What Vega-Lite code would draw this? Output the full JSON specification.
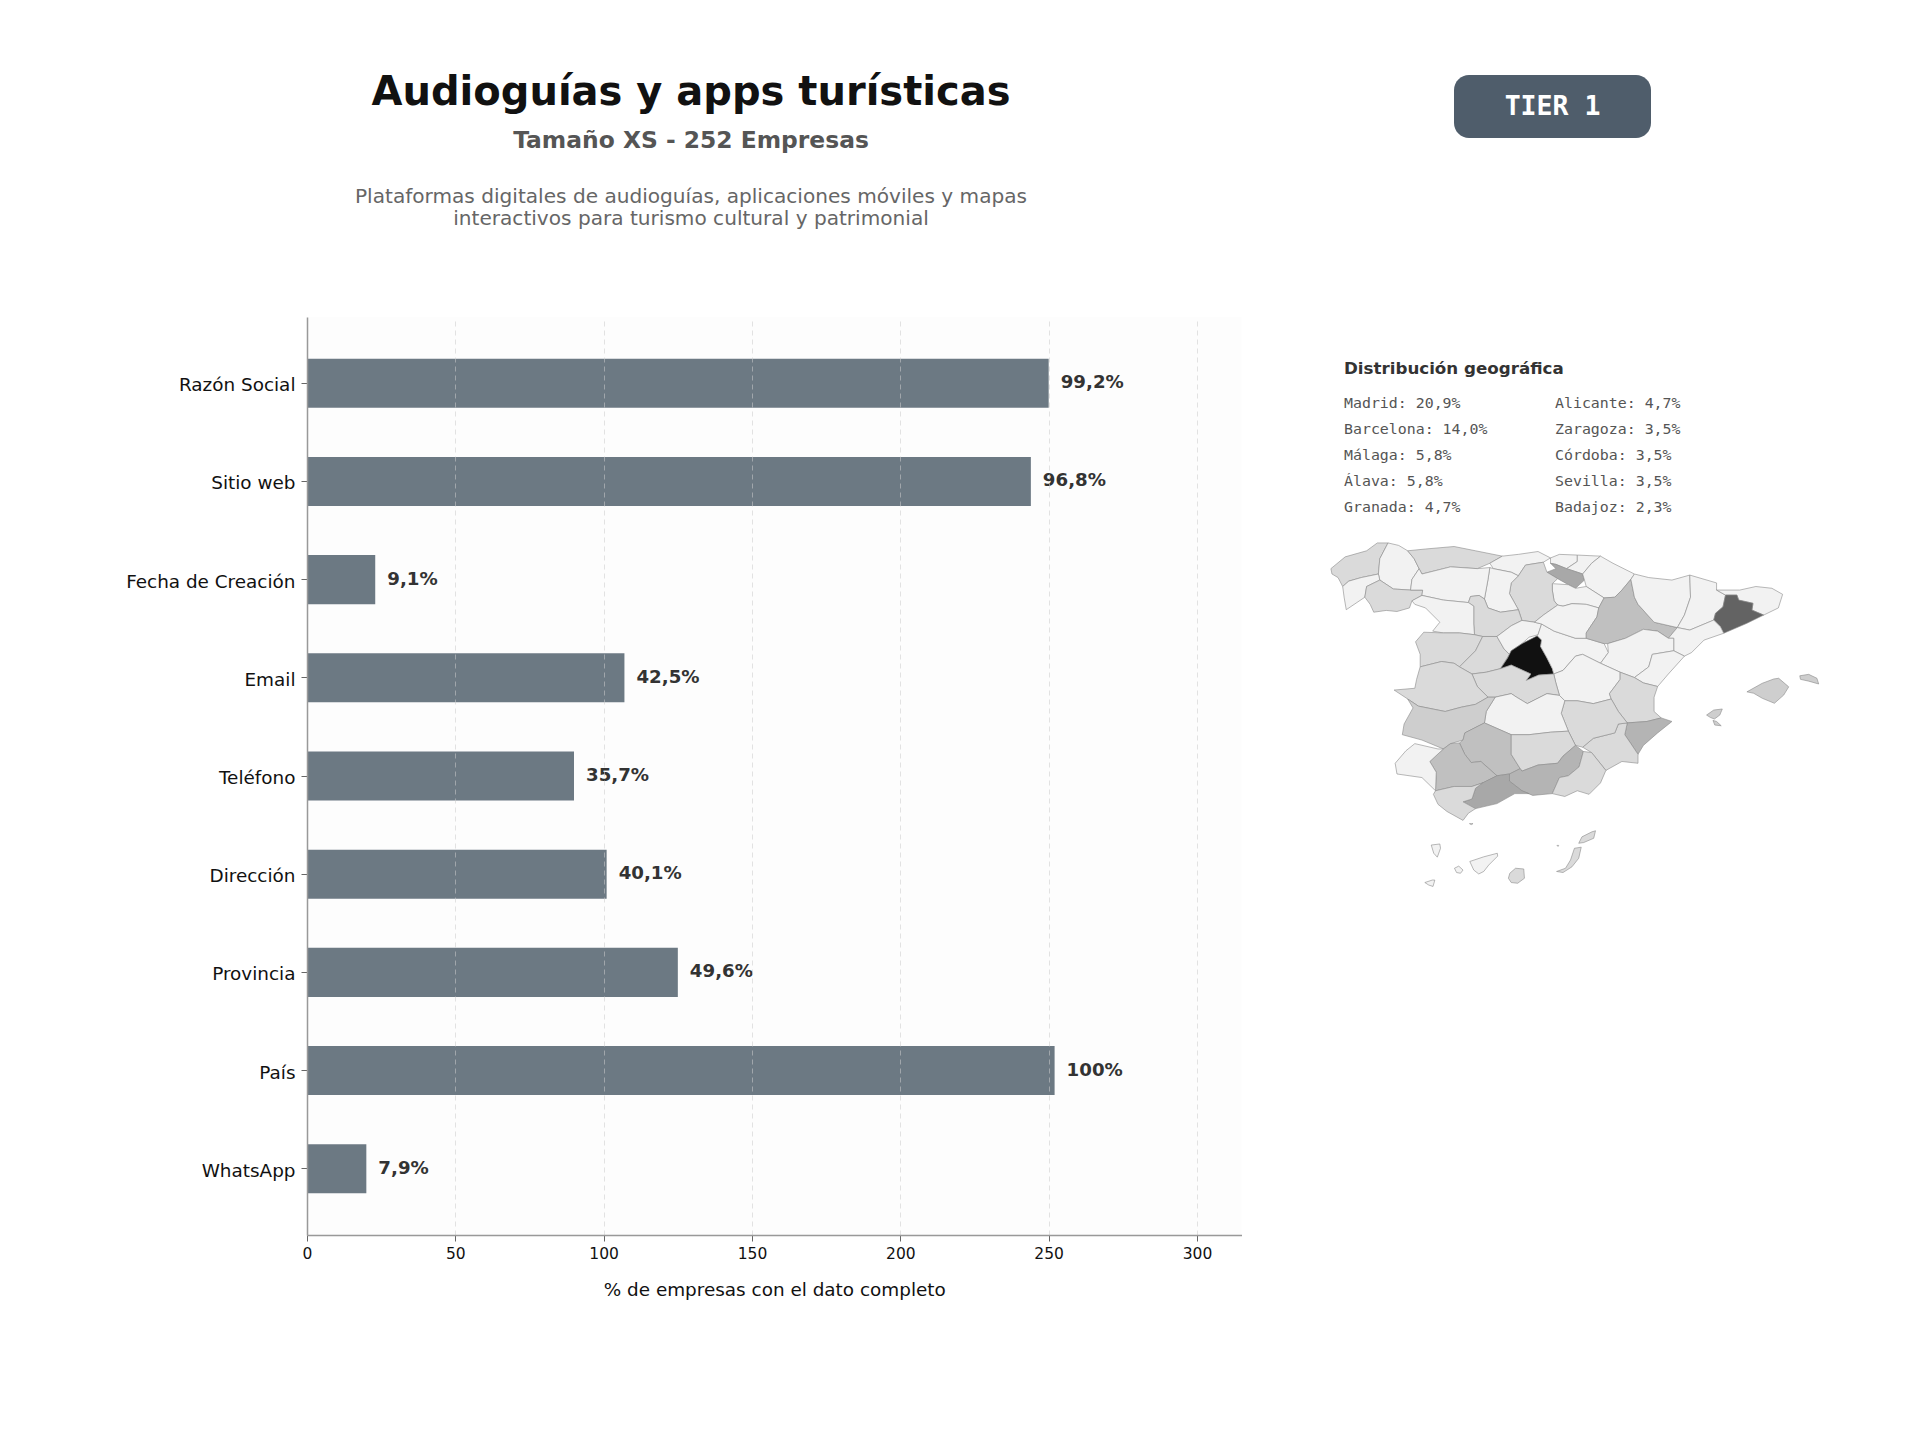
{"$schema":"https://vega.github.io/schema/vega-lite/v6.json","autosize":{"type":"none"},"padding":{"left":307,"top":317,"right":678.5,"bottom":205},"width":934.5,"height":918,"background":"#ffffff","view":{"fill":"#fdfdfd","stroke":null},"config":{"font":"DejaVu Sans"},"resolve":{"scale":{"x":"independent","y":"independent","color":"independent"}},
"layer":[
{"data":{"values":[{"campo":"Razón Social","empresas":250,"etiqueta":"99,2%"},{"campo":"Sitio web","empresas":244,"etiqueta":"96,8%"},{"campo":"Fecha de Creación","empresas":23,"etiqueta":"9,1%"},{"campo":"Email","empresas":107,"etiqueta":"42,5%"},{"campo":"Teléfono","empresas":90,"etiqueta":"35,7%"},{"campo":"Dirección","empresas":101,"etiqueta":"40,1%"},{"campo":"Provincia","empresas":125,"etiqueta":"49,6%"},{"campo":"País","empresas":252,"etiqueta":"100%"},{"campo":"WhatsApp","empresas":20,"etiqueta":"7,9%"}]},
"encoding":{"x":{"field":"empresas","type":"quantitative","scale":{"domain":[0,315],"nice":false,"zero":true},"axis":{"title":"% de empresas con el dato completo","titleFont":"DejaVu Sans","titleFontSize":18.4,"titleFontWeight":"normal","titleColor":"#111111","titlePadding":19,"values":[0,50,100,150,200,250,300],"labelFont":"DejaVu Sans","labelFontSize":15.5,"labelColor":"#111111","labelPadding":5,"labelFlush":false,"tickColor":"#666666","tickSize":6,"tickWidth":1,"domainColor":"#999999","domainWidth":1.5,"grid":true,"gridColor":"#cccccc","gridOpacity":0.55,"gridDash":[5,4],"gridWidth":1,"zindex":1}},
"y":{"field":"campo","type":"nominal","sort":null,"scale":{"paddingInner":0.5,"paddingOuter":0.425},"axis":{"title":null,"labelFont":"DejaVu Sans","labelFontSize":18.4,"labelColor":"#111111","labelPadding":6,"labelOffset":2,"tickColor":"#666666","tickSize":6,"tickWidth":1,"domainColor":"#999999","domainWidth":1.5,"grid":false,"zindex":1}}},
"layer":[{"mark":{"type":"bar","color":"#6c7983"}},{"mark":{"type":"text","align":"left","baseline":"middle","dx":12,"font":"DejaVu Sans","fontWeight":"bold","fontSize":18.2,"color":"#333333"},"encoding":{"text":{"field":"etiqueta"}}}]},
{"data":{"values":[{"bloque":"cabecera","linea":"titulo","texto":"Audioguías y apps turísticas"}]},"mark":{"type":"text","align":"center","baseline":"middle","font":"DejaVu Sans","fontWeight":"bold","fontSize":40,"color":"#111111"},"encoding":{"x":{"field":"bloque","type":"nominal","axis":null,"scale":{"type":"point","domain":["cabecera"],"range":[384,384]}},"y":{"field":"linea","type":"nominal","axis":null,"scale":{"type":"point","domain":["titulo"],"range":[-224,-224]}},"text":{"field":"texto"}}},
{"data":{"values":[{"bloque":"cabecera","linea":"subtitulo","texto":"Tamaño XS - 252 Empresas"}]},"mark":{"type":"text","align":"center","baseline":"middle","font":"DejaVu Sans","fontWeight":"bold","fontSize":23.4,"color":"#555555"},"encoding":{"x":{"field":"bloque","type":"nominal","axis":null,"scale":{"type":"point","domain":["cabecera"],"range":[384,384]}},"y":{"field":"linea","type":"nominal","axis":null,"scale":{"type":"point","domain":["subtitulo"],"range":[-176,-176]}},"text":{"field":"texto"}}},
{"data":{"values":[{"bloque":"cabecera","linea":"d1","texto":"Plataformas digitales de audioguías, aplicaciones móviles y mapas"},{"bloque":"cabecera","linea":"d2","texto":"interactivos para turismo cultural y patrimonial"}]},"mark":{"type":"text","align":"center","baseline":"middle","font":"DejaVu Sans","fontSize":20.1,"color":"#666666"},"encoding":{"x":{"field":"bloque","type":"nominal","axis":null,"scale":{"type":"point","domain":["cabecera"],"range":[384,384]}},"y":{"field":"linea","type":"nominal","axis":null,"scale":{"type":"point","padding":0,"domain":["d1","d2"],"range":[-120,-98]}},"text":{"field":"texto"}}},
{"data":{"values":[{"nivel":"TIER 1","fila":"insignia"}]},"encoding":{"x":{"field":"nivel","type":"nominal","axis":null,"scale":{"type":"band","domain":["TIER 1"],"range":[1147,1344],"paddingInner":0,"paddingOuter":0}},"y":{"field":"fila","type":"nominal","axis":null,"scale":{"type":"band","domain":["insignia"],"range":[-242,-179],"paddingInner":0,"paddingOuter":0}}},"layer":[{"mark":{"type":"rect","color":"#4f5d6b","cornerRadius":15}},{"mark":{"type":"text","align":"center","baseline":"middle","font":"DejaVu Sans Mono","fontWeight":"bold","fontSize":26.5,"color":"#ffffff"},"encoding":{"text":{"field":"nivel"}}}]},
{"data":{"values":[{"bloque":"geo","linea":"encabezado","texto":"Distribución geográfica"}]},"mark":{"type":"text","align":"left","baseline":"middle","font":"DejaVu Sans","fontWeight":"bold","fontSize":16.7,"color":"#333333"},"encoding":{"x":{"field":"bloque","type":"nominal","axis":null,"scale":{"type":"point","domain":["geo"],"range":[1037,1037]}},"y":{"field":"linea","type":"nominal","axis":null,"scale":{"type":"point","domain":["encabezado"],"range":[51.5,51.5]}},"text":{"field":"texto"}}},
{"data":{"values":[{"columna":"a","fila":"1","texto":"Madrid: 20,9%"},{"columna":"a","fila":"2","texto":"Barcelona: 14,0%"},{"columna":"a","fila":"3","texto":"Málaga: 5,8%"},{"columna":"a","fila":"4","texto":"Álava: 5,8%"},{"columna":"a","fila":"5","texto":"Granada: 4,7%"},{"columna":"b","fila":"1","texto":"Alicante: 4,7%"},{"columna":"b","fila":"2","texto":"Zaragoza: 3,5%"},{"columna":"b","fila":"3","texto":"Córdoba: 3,5%"},{"columna":"b","fila":"4","texto":"Sevilla: 3,5%"},{"columna":"b","fila":"5","texto":"Badajoz: 2,3%"}]},"mark":{"type":"text","align":"left","baseline":"middle","font":"DejaVu Sans Mono","fontSize":14.9,"color":"#555555"},"encoding":{"x":{"field":"columna","type":"nominal","axis":null,"scale":{"type":"point","padding":0,"domain":["a","b"],"range":[1037,1248]}},"y":{"field":"fila","type":"nominal","axis":null,"scale":{"type":"point","padding":0,"domain":["1","2","3","4","5"],"range":[87.4,191.3]}},"text":{"field":"texto"}}},
{"data":{"values":[
{"type":"Feature","properties":{"name":"A Coruña","pct":1.2},"geometry":{"type":"Polygon","coordinates":[[[-9.30,43.05],[-8.90,43.38],[-8.30,43.55],[-8.00,43.77],[-7.70,43.77],[-7.93,43.33],[-7.97,42.90],[-8.45,42.80],[-8.80,42.70],[-8.97,42.55],[-9.10,42.80],[-9.27,42.90],[-9.30,43.05]]]}},
{"type":"Feature","properties":{"name":"Lugo","pct":0},"geometry":{"type":"Polygon","coordinates":[[[-7.70,43.77],[-7.40,43.70],[-7.15,43.55],[-6.97,43.33],[-6.83,43.05],[-7.03,42.75],[-7.07,42.45],[-7.55,42.48],[-7.93,42.73],[-7.97,42.90],[-7.93,43.33],[-7.70,43.77]]]}},
{"type":"Feature","properties":{"name":"Pontevedra","pct":0},"geometry":{"type":"Polygon","coordinates":[[[-8.97,42.55],[-8.80,42.70],[-8.45,42.80],[-7.97,42.90],[-7.93,42.73],[-8.30,42.55],[-8.35,42.25],[-8.87,41.90],[-8.93,42.25],[-8.97,42.55]]]}},
{"type":"Feature","properties":{"name":"Ourense","pct":1.2},"geometry":{"type":"Polygon","coordinates":[[[-8.30,42.55],[-7.93,42.73],[-7.55,42.48],[-7.07,42.45],[-6.73,42.45],[-6.75,42.30],[-7.03,42.15],[-7.10,41.95],[-7.45,41.85],[-7.75,41.88],[-8.10,41.83],[-8.20,42.05],[-8.35,42.25],[-8.30,42.55]]]}},
{"type":"Feature","properties":{"name":"Asturias","pct":1.2},"geometry":{"type":"Polygon","coordinates":[[[-7.15,43.55],[-6.65,43.60],[-5.85,43.67],[-5.25,43.55],[-4.50,43.40],[-4.85,43.20],[-5.20,43.05],[-5.95,43.10],[-6.75,42.90],[-6.83,43.05],[-6.97,43.33],[-7.15,43.55]]]}},
{"type":"Feature","properties":{"name":"Cantabria","pct":0},"geometry":{"type":"Polygon","coordinates":[[[-4.50,43.40],[-4.05,43.45],[-3.50,43.53],[-3.15,43.35],[-3.35,43.23],[-3.85,43.15],[-4.05,42.85],[-4.25,42.95],[-4.75,43.05],[-4.85,43.20],[-4.50,43.40]]]}},
{"type":"Feature","properties":{"name":"Bizkaia","pct":0},"geometry":{"type":"Polygon","coordinates":[[[-3.15,43.35],[-2.90,43.45],[-2.40,43.43],[-2.40,43.25],[-2.70,43.05],[-3.00,43.17],[-3.15,43.20],[-3.15,43.35]]]}},
{"type":"Feature","properties":{"name":"Gipuzkoa","pct":0},"geometry":{"type":"Polygon","coordinates":[[[-2.40,43.43],[-1.75,43.40],[-2.00,43.20],[-2.25,42.90],[-2.70,43.05],[-2.40,43.25],[-2.40,43.43]]]}},
{"type":"Feature","properties":{"name":"Álava","pct":5.8},"geometry":{"type":"Polygon","coordinates":[[[-3.15,43.20],[-3.00,43.17],[-2.70,43.05],[-2.25,42.90],[-2.20,42.73],[-2.45,42.50],[-2.65,42.60],[-2.95,42.77],[-3.25,42.95],[-3.00,43.05],[-3.15,43.20]]]}},
{"type":"Feature","properties":{"name":"Navarra","pct":0},"geometry":{"type":"Polygon","coordinates":[[[-1.75,43.40],[-1.40,43.20],[-0.80,42.90],[-0.90,42.75],[-1.15,42.45],[-1.35,42.25],[-1.65,42.23],[-2.15,42.55],[-2.20,42.73],[-2.25,42.90],[-2.00,43.20],[-1.75,43.40]]]}},
{"type":"Feature","properties":{"name":"La Rioja","pct":0},"geometry":{"type":"Polygon","coordinates":[[[-3.10,42.63],[-2.65,42.60],[-2.45,42.50],[-2.15,42.55],[-1.65,42.23],[-1.80,41.95],[-2.15,42.05],[-2.55,42.07],[-2.80,42.00],[-2.95,42.03],[-3.05,42.15],[-3.10,42.45],[-3.10,42.63]]]}},
{"type":"Feature","properties":{"name":"Burgos","pct":1.2},"geometry":{"type":"Polygon","coordinates":[[[-4.05,42.85],[-3.85,43.15],[-3.35,43.23],[-3.25,42.95],[-2.95,42.77],[-3.10,42.63],[-3.10,42.45],[-3.05,42.15],[-2.95,42.03],[-3.35,41.75],[-3.60,41.55],[-3.95,41.60],[-4.05,41.90],[-4.30,42.35],[-4.25,42.65],[-4.05,42.85]]]}},
{"type":"Feature","properties":{"name":"Palencia","pct":0},"geometry":{"type":"Polygon","coordinates":[[[-4.85,43.08],[-4.75,43.05],[-4.25,42.95],[-4.05,42.85],[-4.25,42.65],[-4.30,42.35],[-4.05,41.90],[-4.55,41.83],[-4.90,41.95],[-5.00,42.20],[-4.90,42.75],[-4.85,43.08]]]}},
{"type":"Feature","properties":{"name":"León","pct":0},"geometry":{"type":"Polygon","coordinates":[[[-6.75,42.90],[-5.95,43.10],[-5.20,43.05],[-4.85,43.08],[-4.90,42.75],[-5.00,42.20],[-5.15,42.30],[-5.39,42.27],[-5.45,42.10],[-6.15,42.17],[-6.75,42.30],[-6.73,42.45],[-7.07,42.45],[-7.03,42.75],[-6.83,43.05],[-6.75,42.90]]]}},
{"type":"Feature","properties":{"name":"Valladolid","pct":1.2},"geometry":{"type":"Polygon","coordinates":[[[-5.39,42.27],[-5.15,42.30],[-5.00,42.20],[-4.90,41.95],[-4.55,41.83],[-4.05,41.90],[-3.95,41.60],[-4.25,41.45],[-4.65,41.15],[-5.05,41.15],[-5.28,41.20],[-5.30,41.50],[-5.30,42.00],[-5.45,42.10],[-5.39,42.27]]]}},
{"type":"Feature","properties":{"name":"Zamora","pct":0},"geometry":{"type":"Polygon","coordinates":[[[-6.75,42.30],[-6.15,42.17],[-5.45,42.10],[-5.30,42.00],[-5.30,41.50],[-5.28,41.20],[-5.70,41.25],[-6.15,41.25],[-6.45,41.30],[-6.25,41.55],[-6.65,41.95],[-6.95,42.05],[-7.03,42.15],[-6.75,42.30]]]}},
{"type":"Feature","properties":{"name":"Salamanca","pct":1.2},"geometry":{"type":"Polygon","coordinates":[[[-6.70,41.27],[-6.15,41.25],[-5.70,41.25],[-5.28,41.20],[-5.05,41.15],[-5.25,40.75],[-5.70,40.30],[-5.85,40.40],[-6.20,40.45],[-6.80,40.30],[-6.80,40.65],[-6.93,41.00],[-6.70,41.27]]]}},
{"type":"Feature","properties":{"name":"Ávila","pct":1.2},"geometry":{"type":"Polygon","coordinates":[[[-5.05,41.15],[-4.65,41.15],[-4.45,40.80],[-4.30,40.65],[-4.55,40.25],[-4.95,40.15],[-5.35,40.10],[-5.70,40.30],[-5.25,40.75],[-5.05,41.15]]]}},
{"type":"Feature","properties":{"name":"Segovia","pct":0},"geometry":{"type":"Polygon","coordinates":[[[-3.95,41.60],[-3.60,41.55],[-3.40,41.50],[-3.50,41.20],[-3.75,41.13],[-3.95,40.95],[-4.25,40.75],[-4.30,40.65],[-4.45,40.80],[-4.65,41.15],[-4.25,41.45],[-3.95,41.60]]]}},
{"type":"Feature","properties":{"name":"Madrid","pct":20.9},"geometry":{"type":"Polygon","coordinates":[[[-3.52,41.17],[-3.40,41.05],[-3.43,40.87],[-3.25,40.55],[-3.10,40.25],[-3.06,40.10],[-3.48,40.07],[-3.83,39.92],[-3.70,40.10],[-4.25,40.35],[-4.55,40.25],[-4.35,40.55],[-4.25,40.75],[-3.95,40.95],[-3.52,41.17]]]}},
{"type":"Feature","properties":{"name":"Guadalajara","pct":0},"geometry":{"type":"Polygon","coordinates":[[[-3.40,41.50],[-3.05,41.30],[-2.45,41.10],[-2.15,41.10],[-1.65,40.95],[-1.53,40.70],[-1.75,40.40],[-2.25,40.65],[-2.45,40.60],[-2.80,40.20],[-3.06,40.10],[-3.10,40.25],[-3.25,40.55],[-3.43,40.87],[-3.40,41.05],[-3.52,41.17],[-3.50,41.20],[-3.40,41.50]]]}},
{"type":"Feature","properties":{"name":"Soria","pct":0},"geometry":{"type":"Polygon","coordinates":[[[-2.95,42.03],[-2.80,42.00],[-2.55,42.07],[-2.15,42.05],[-1.80,41.95],[-1.85,41.70],[-2.15,41.25],[-2.15,41.10],[-2.45,41.10],[-3.05,41.30],[-3.40,41.50],[-3.60,41.55],[-3.35,41.75],[-2.95,42.03]]]}},
{"type":"Feature","properties":{"name":"Zaragoza","pct":3.5},"geometry":{"type":"Polygon","coordinates":[[[-0.90,42.75],[-0.80,42.25],[-0.70,42.05],[-0.25,41.55],[0.40,41.40],[0.15,41.10],[-0.15,41.30],[-0.55,41.35],[-1.05,41.10],[-1.55,40.95],[-1.65,40.95],[-2.15,41.10],[-2.15,41.25],[-1.85,41.70],[-1.80,41.95],[-1.65,42.23],[-1.35,42.25],[-1.15,42.45],[-0.90,42.75]]]}},
{"type":"Feature","properties":{"name":"Huesca","pct":0},"geometry":{"type":"Polygon","coordinates":[[[-0.80,42.90],[-0.40,42.80],[0.25,42.73],[0.75,42.87],[0.77,42.25],[0.60,41.75],[0.40,41.40],[-0.25,41.55],[-0.70,42.05],[-0.80,42.25],[-0.90,42.75],[-0.80,42.90]]]}},
{"type":"Feature","properties":{"name":"Lleida","pct":0},"geometry":{"type":"Polygon","coordinates":[[[0.75,42.87],[1.50,42.65],[1.50,42.45],[1.75,42.31],[1.68,41.98],[1.47,41.80],[1.42,41.61],[0.75,41.33],[0.40,41.40],[0.60,41.75],[0.77,42.25],[0.75,42.87]]]}},
{"type":"Feature","properties":{"name":"Girona","pct":0},"geometry":{"type":"Polygon","coordinates":[[[1.50,42.45],[2.15,42.45],[2.60,42.55],[3.05,42.50],[3.35,42.33],[3.23,41.95],[2.82,41.75],[2.49,41.89],[2.52,42.08],[2.12,42.17],[2.07,42.31],[1.75,42.31],[1.50,42.45]]]}},
{"type":"Feature","properties":{"name":"Barcelona","pct":14},"geometry":{"type":"Polygon","coordinates":[[[1.75,42.31],[2.07,42.31],[2.12,42.17],[2.52,42.08],[2.49,41.89],[2.82,41.75],[2.35,41.52],[1.70,41.24],[1.61,41.42],[1.42,41.61],[1.47,41.80],[1.68,41.98],[1.75,42.31]]]}},
{"type":"Feature","properties":{"name":"Tarragona","pct":0},"geometry":{"type":"Polygon","coordinates":[[[1.42,41.61],[1.61,41.42],[1.70,41.24],[1.15,41.05],[0.80,40.70],[0.60,40.60],[0.30,40.75],[0.30,41.10],[0.15,41.10],[0.40,41.40],[0.75,41.33],[1.42,41.61]]]}},
{"type":"Feature","properties":{"name":"Teruel","pct":0},"geometry":{"type":"Polygon","coordinates":[[[-1.55,40.95],[-1.05,41.10],[-0.55,41.35],[-0.15,41.30],[0.15,41.10],[0.30,41.10],[0.30,40.75],[-0.30,40.65],[-0.40,40.30],[-0.80,40.00],[-1.20,40.15],[-1.75,40.40],[-1.53,40.70],[-1.55,40.95]]]}},
{"type":"Feature","properties":{"name":"Castellón","pct":0},"geometry":{"type":"Polygon","coordinates":[[[-0.30,40.65],[0.30,40.75],[0.60,40.60],[0.15,40.10],[-0.15,39.75],[-0.55,39.85],[-0.80,40.00],[-0.40,40.30],[-0.30,40.65]]]}},
{"type":"Feature","properties":{"name":"Cuenca","pct":0},"geometry":{"type":"Polygon","coordinates":[[[-2.80,40.20],[-2.45,40.60],[-2.25,40.65],[-1.75,40.40],[-1.20,40.15],[-1.20,39.95],[-1.50,39.55],[-1.45,39.40],[-1.95,39.27],[-2.40,39.35],[-2.75,39.35],[-2.90,39.50],[-3.00,39.85],[-3.06,40.10],[-2.80,40.20]]]}},
{"type":"Feature","properties":{"name":"Valencia","pct":1.2},"geometry":{"type":"Polygon","coordinates":[[[-1.20,40.15],[-0.80,40.00],[-0.55,39.85],[-0.15,39.75],[-0.25,39.45],[-0.25,39.05],[-0.05,38.87],[-0.45,38.77],[-1.00,38.73],[-1.25,39.05],[-1.45,39.40],[-1.50,39.55],[-1.20,39.95],[-1.20,40.15]]]}},
{"type":"Feature","properties":{"name":"Alicante","pct":4.7},"geometry":{"type":"Polygon","coordinates":[[[-1.00,38.73],[-0.45,38.77],[-0.05,38.87],[0.25,38.77],[-0.15,38.45],[-0.55,38.10],[-0.70,37.85],[-0.90,38.15],[-1.07,38.40],[-1.00,38.73]]]}},
{"type":"Feature","properties":{"name":"Murcia","pct":1.2},"geometry":{"type":"Polygon","coordinates":[[[-2.25,38.05],[-1.95,38.30],[-1.35,38.45],[-1.25,38.70],[-1.00,38.73],[-1.07,38.40],[-0.90,38.15],[-0.70,37.85],[-0.70,37.60],[-1.15,37.65],[-1.60,37.40],[-2.00,37.90],[-2.25,38.05]]]}},
{"type":"Feature","properties":{"name":"Albacete","pct":1.2},"geometry":{"type":"Polygon","coordinates":[[[-2.75,39.35],[-2.40,39.35],[-1.95,39.27],[-1.45,39.40],[-1.25,39.05],[-1.00,38.73],[-1.25,38.70],[-1.35,38.45],[-1.95,38.30],[-2.25,38.05],[-2.45,38.10],[-2.65,38.50],[-2.85,39.00],[-2.75,39.35]]]}},
{"type":"Feature","properties":{"name":"Toledo","pct":1.2},"geometry":{"type":"Polygon","coordinates":[[[-5.35,40.10],[-4.95,40.15],[-4.55,40.25],[-4.25,40.35],[-3.70,40.10],[-3.83,39.92],[-3.48,40.07],[-3.06,40.10],[-3.00,39.85],[-2.90,39.50],[-3.25,39.55],[-3.80,39.27],[-4.10,39.45],[-4.25,39.55],[-4.70,39.45],[-4.90,39.45],[-5.20,39.75],[-5.35,40.10]]]}},
{"type":"Feature","properties":{"name":"Ciudad Real","pct":0},"geometry":{"type":"Polygon","coordinates":[[[-4.70,39.45],[-4.25,39.55],[-4.10,39.45],[-3.80,39.27],[-3.25,39.55],[-2.90,39.50],[-2.75,39.35],[-2.85,39.00],[-2.65,38.50],[-3.15,38.47],[-3.75,38.40],[-4.25,38.40],[-5.00,38.73],[-4.95,39.05],[-4.70,39.45]]]}},
{"type":"Feature","properties":{"name":"Cáceres","pct":1.2},"geometry":{"type":"Polygon","coordinates":[[[-6.80,40.30],[-6.20,40.45],[-5.85,40.40],[-5.70,40.30],[-5.35,40.10],[-5.20,39.75],[-4.90,39.45],[-5.25,39.25],[-5.65,39.17],[-6.10,39.05],[-6.85,39.20],[-7.15,39.40],[-7.53,39.65],[-6.95,39.70],[-6.90,39.95],[-6.80,40.30]]]}},
{"type":"Feature","properties":{"name":"Badajoz","pct":2.3},"geometry":{"type":"Polygon","coordinates":[[[-7.15,39.40],[-6.85,39.20],[-6.10,39.05],[-5.65,39.17],[-5.25,39.25],[-4.90,39.45],[-4.70,39.45],[-4.95,39.05],[-5.00,38.73],[-5.55,38.45],[-5.60,38.25],[-5.95,38.15],[-6.15,38.00],[-6.75,38.25],[-7.30,38.40],[-7.25,38.70],[-7.00,39.15],[-7.15,39.40]]]}},
{"type":"Feature","properties":{"name":"Córdoba","pct":3.5},"geometry":{"type":"Polygon","coordinates":[[[-5.00,38.73],[-4.25,38.40],[-4.25,37.85],[-4.00,37.45],[-4.30,37.30],[-4.65,37.25],[-5.10,37.65],[-5.37,37.62],[-5.55,37.85],[-5.70,38.17],[-5.60,38.25],[-5.55,38.45],[-5.00,38.73]]]}},
{"type":"Feature","properties":{"name":"Sevilla","pct":3.5},"geometry":{"type":"Polygon","coordinates":[[[-6.15,38.00],[-5.95,38.15],[-5.70,38.17],[-5.55,37.85],[-5.37,37.62],[-5.10,37.65],[-4.65,37.25],[-5.05,37.05],[-5.35,36.95],[-5.85,36.95],[-6.37,36.83],[-6.35,37.35],[-6.53,37.65],[-6.15,38.00]]]}},
{"type":"Feature","properties":{"name":"Huelva","pct":0},"geometry":{"type":"Polygon","coordinates":[[[-6.95,38.15],[-6.30,38.00],[-6.15,38.00],[-6.53,37.65],[-6.35,37.35],[-6.37,36.83],[-6.75,37.20],[-7.45,37.30],[-7.50,37.60],[-7.20,37.95],[-6.95,38.15]]]}},
{"type":"Feature","properties":{"name":"Jaén","pct":1.2},"geometry":{"type":"Polygon","coordinates":[[[-4.25,38.40],[-3.75,38.40],[-3.15,38.47],[-2.65,38.50],[-2.45,38.10],[-2.80,37.80],[-2.95,37.60],[-3.50,37.55],[-3.95,37.38],[-4.00,37.45],[-4.25,37.85],[-4.25,38.40]]]}},
{"type":"Feature","properties":{"name":"Granada","pct":4.7},"geometry":{"type":"Polygon","coordinates":[[[-2.45,38.10],[-2.23,37.93],[-2.35,37.50],[-2.65,37.25],[-2.90,37.20],[-3.10,36.75],[-3.65,36.70],[-3.95,36.83],[-4.30,37.10],[-4.30,37.30],[-4.00,37.45],[-3.95,37.38],[-3.50,37.55],[-2.95,37.60],[-2.80,37.80],[-2.45,38.10]]]}},
{"type":"Feature","properties":{"name":"Almería","pct":1.2},"geometry":{"type":"Polygon","coordinates":[[[-2.23,37.93],[-2.00,37.90],[-1.60,37.40],[-1.75,37.05],[-2.07,36.73],[-2.40,36.83],[-2.75,36.67],[-3.10,36.75],[-2.90,37.20],[-2.65,37.25],[-2.35,37.50],[-2.23,37.93]]]}},
{"type":"Feature","properties":{"name":"Málaga","pct":5.8},"geometry":{"type":"Polygon","coordinates":[[[-4.65,37.25],[-4.30,37.30],[-4.30,37.10],[-3.95,36.83],[-3.75,36.75],[-4.15,36.75],[-4.65,36.47],[-5.25,36.33],[-5.60,36.52],[-5.35,36.60],[-5.25,36.90],[-5.05,37.05],[-4.65,37.25]]]}},
{"type":"Feature","properties":{"name":"Cádiz","pct":1.2},"geometry":{"type":"Polygon","coordinates":[[[-6.37,36.83],[-5.85,36.95],[-5.35,36.95],[-5.05,37.05],[-5.25,36.90],[-5.35,36.60],[-5.60,36.52],[-5.25,36.33],[-5.45,36.20],[-5.60,36.00],[-6.05,36.25],[-6.30,36.45],[-6.43,36.73],[-6.37,36.83]]]}},
{"type":"Feature","properties":{"name":"Illes Balears","pct":2.3},"geometry":{"type":"MultiPolygon","coordinates":[[[[2.35,39.60],[2.78,39.84],[3.10,39.96],[3.24,39.98],[3.52,39.74],[3.38,39.51],[3.12,39.28],[2.78,39.42],[2.54,39.56],[2.35,39.60]]],[[[3.83,40.05],[4.08,40.09],[4.31,39.98],[4.36,39.82],[4.08,39.90],[3.85,39.95],[3.83,40.05]]],[[[1.22,38.95],[1.42,39.09],[1.66,39.12],[1.59,38.95],[1.44,38.84],[1.33,38.88],[1.22,38.95]]],[[[1.40,38.80],[1.50,38.77],[1.63,38.65],[1.45,38.67],[1.40,38.80]]]]}},
{"type":"Feature","properties":{"name":"Santa Cruz de Tenerife","pct":0},"geometry":{"type":"MultiPolygon","coordinates":[[[[-6.49,35.31],[-6.25,35.34],[-6.23,35.22],[-6.32,34.97],[-6.42,35.08],[-6.49,35.31]]],[[[-5.41,34.85],[-5.02,34.98],[-4.64,35.08],[-4.63,35.00],[-4.88,34.75],[-5.02,34.57],[-5.16,34.50],[-5.30,34.61],[-5.41,34.85]]],[[[-5.84,34.66],[-5.72,34.72],[-5.60,34.61],[-5.67,34.52],[-5.78,34.54],[-5.84,34.66]]],[[[-6.67,34.26],[-6.46,34.33],[-6.39,34.33],[-6.44,34.15],[-6.56,34.19],[-6.67,34.26]]]]}},
{"type":"Feature","properties":{"name":"Las Palmas","pct":1.2},"geometry":{"type":"MultiPolygon","coordinates":[[[[-4.29,34.52],[-4.13,34.66],[-3.90,34.64],[-3.88,34.38],[-4.07,34.24],[-4.25,34.26],[-4.33,34.38],[-4.29,34.52]]],[[[-2.98,34.57],[-2.73,34.66],[-2.59,34.89],[-2.48,35.22],[-2.29,35.25],[-2.36,34.94],[-2.55,34.70],[-2.80,34.54],[-2.98,34.57]]],[[[-2.36,35.36],[-2.27,35.54],[-1.99,35.68],[-1.89,35.71],[-1.94,35.50],[-2.22,35.38],[-2.36,35.36]]]]}},
{"type":"Feature","properties":{"name":"Ceuta","pct":0},"geometry":{"type":"Polygon","coordinates":[[[-5.42,35.91],[-5.32,35.91],[-5.37,35.88],[-5.42,35.91]]]}},
{"type":"Feature","properties":{"name":"Melilla","pct":0},"geometry":{"type":"Polygon","coordinates":[[[-2.97,35.30],[-2.92,35.30],[-2.94,35.27],[-2.97,35.30]]]}}
]},
"projection":{"type":"identity","reflectY":true,"extent":[[1023.9,225.9],[1511.7,569.5]]},
"mark":{"type":"geoshape","stroke":"#8a8a8a","strokeWidth":0.6},
"encoding":{"color":{"field":"properties.pct","type":"quantitative","legend":null,"scale":{"domain":[0,1.2,2.3,3.5,4.7,5.8,14,20.9],"range":["#f2f2f2","#dadada","#cecece","#c0c0c0","#b4b4b4","#a8a8a8","#636363","#111111"]}}}}
]}
